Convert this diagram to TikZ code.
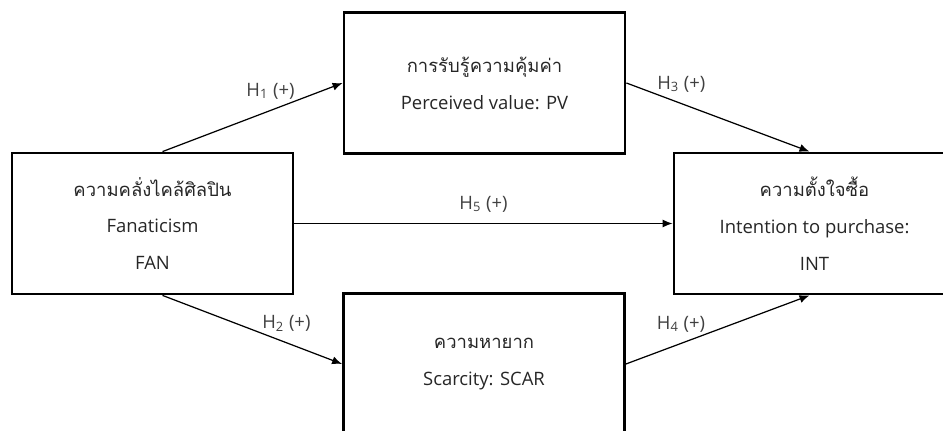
\documentclass[tikz,border=0pt]{standalone}
\usepackage{fontspec}
\setmainfont{Open Sans}
\newfontfamily\thaifont[Script=Thai]{Loma}
\usetikzlibrary{arrows.meta}

\tikzset{
  box/.style={draw, line width=1.6pt, minimum width=5.62cm, minimum height=2.82cm,
    align=center, font=\fontsize{10.5}{21}\selectfont, text=black!85},
  link/.style={line width=0.7pt, -{Latex[length=2mm,width=1.6mm]}},
  hyp/.style={text=black!75, font=\fontsize{10.5}{12}\selectfont}
}

\begin{document}
\begin{tikzpicture}
\useasboundingbox (0,0) rectangle (18.86,8.6);

\node[box] (fan) at (3.05,4.13) {{\thaifont ความคลั่งไคล้ศิลปิน}\\Fanaticism\\FAN};
\node[box] (pv) at (9.69,6.94) {{\thaifont การรับรู้ความคุ้มค่า}\\Perceived value: PV};
\node[box] (scar) at (9.68,1.32) {{\thaifont ความหายาก}\\Scarcity: SCAR};
\node[box] (int) at (16.29,4.13) {{\thaifont ความตั้งใจซื้อ}\\Intention to purchase:\\INT};

\draw [link] ([xshift=0.2cm]fan.north) -- (pv.west) node[hyp, pos=0.6, above=1mm] {H\textsubscript{1} (+)};
\draw [link] ([xshift=0.2cm]fan.south) -- (scar.west) node[hyp, pos=0.69, above=1mm] {H\textsubscript{2} (+)};
\draw [link] (pv.east) -- ([xshift=-0.1cm]int.north) node[hyp, pos=0.3, above=1mm] {H\textsubscript{3} (+)};
\draw [link] (scar.east) -- ([xshift=-0.1cm]int.south) node[hyp, pos=0.3, above=1mm] {H\textsubscript{4} (+)};
\draw [link] (fan.east) -- (int.west) node[hyp, midway, above=1mm] {H\textsubscript{5} (+)};

\end{tikzpicture}
\end{document}
